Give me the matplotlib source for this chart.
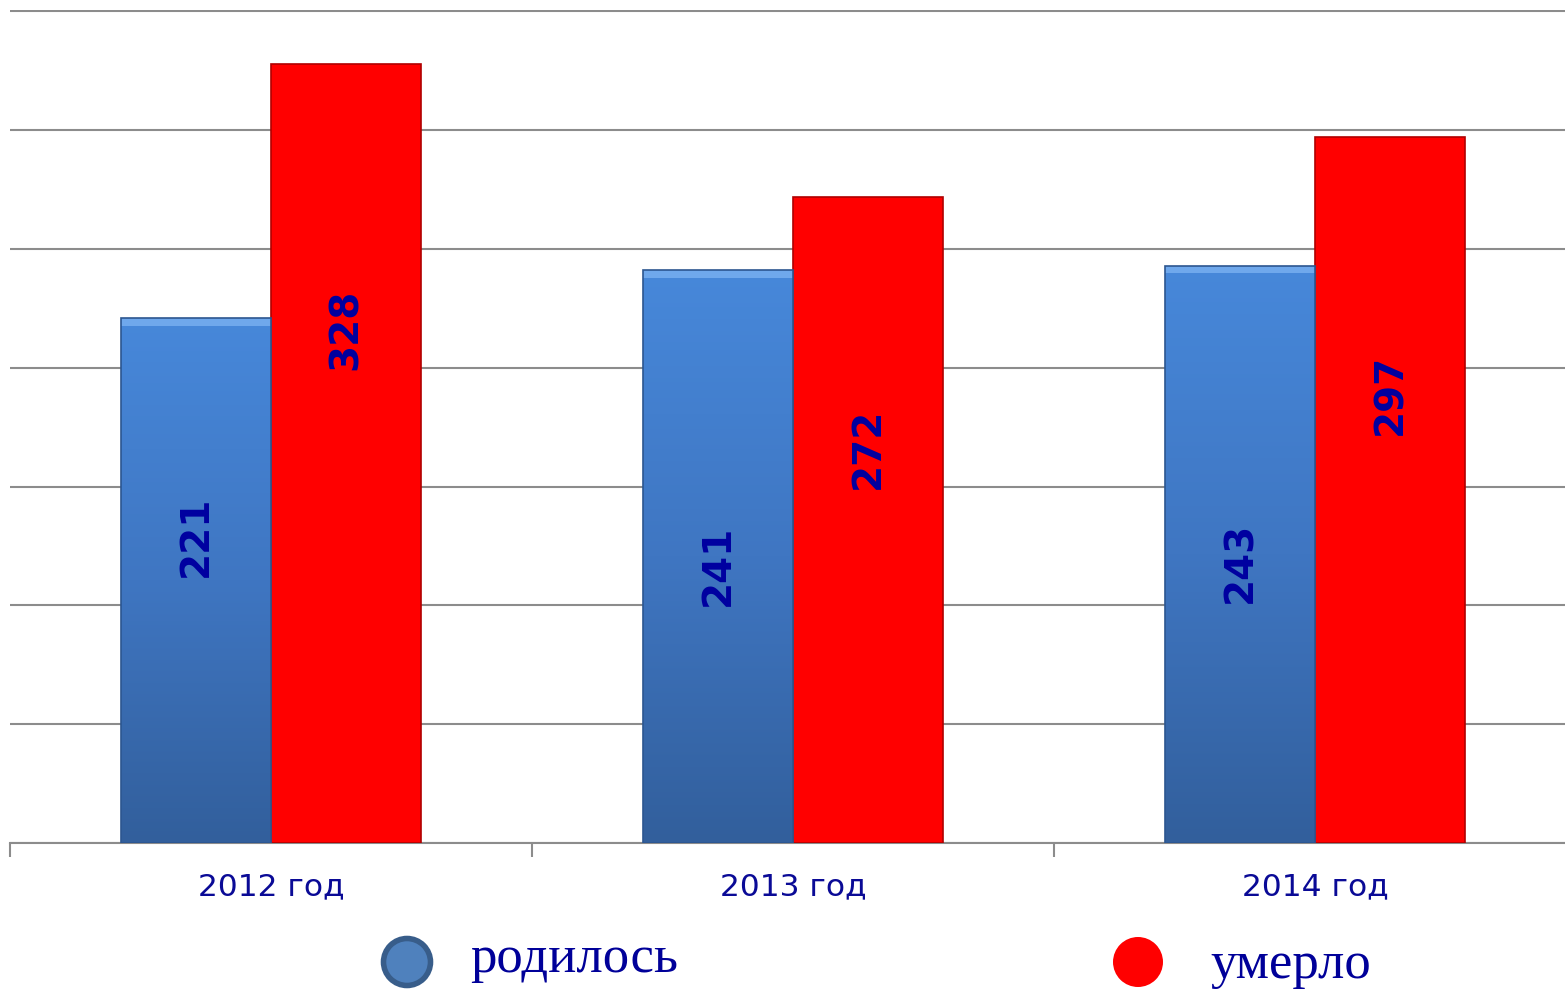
import numpy as np
import matplotlib.pyplot as plt
from matplotlib.colors import LinearSegmentedColormap
from matplotlib.patches import Circle

years = ['2012 год', '2013 год', '2014 год']
born = [221, 241, 243]
died = [328, 272, 297]
series_names = ['родилось', 'умерло']

# heights (data units) where the rotated value labels sit in the original
born_label_y = [129, 117, 118]
died_label_y = [216, 166, 189]

text_blue = '#0a0a96'
grid_gray = '#8c8c8c'

fig = plt.figure(figsize=(15.65, 9.93), dpi=100)
ax = fig.add_axes([10 / 1565, 150 / 993, 1566 / 1565, 833 / 993])

x = np.arange(len(years))
w = 0.287

# blue bars with a vertical gradient
blue_cmap = LinearSegmentedColormap.from_list('blue_grad', ['#325f9c', '#3f76c2', '#4788da'])
grad = np.linspace(0, 1, 256).reshape(-1, 1)
bars_b = ax.bar(x - w / 2, born, w, color='#3f78c4', linewidth=0, zorder=3)
for b in bars_b:
    im = ax.imshow(grad, cmap=blue_cmap, origin='lower', aspect='auto', zorder=3.2,
                   extent=(b.get_x(), b.get_x() + b.get_width(), 0, b.get_height()))
    im.set_clip_path(b)
# light bevel on top of the blue bars
ax.bar(x - w / 2, [3.2] * len(born), w, bottom=np.array(born) - 3.2,
       color='#6fa8ec', linewidth=0, zorder=3.4)
ax.bar(x - w / 2, born, w, fill=False, edgecolor='#2c5690', linewidth=1.2, zorder=3.6)

ax.bar(x + w / 2, died, w, color='#ff0000', edgecolor='#b00000', linewidth=1.2, zorder=3)

for i in range(len(years)):
    ax.text(x[i] - w / 2, born_label_y[i], str(born[i]), rotation=90, ha='center', va='center',
            fontsize=28, fontweight='bold', color='#0000a0', zorder=5)
    ax.text(x[i] + w / 2, died_label_y[i], str(died[i]), rotation=90, ha='center', va='center',
            fontsize=28, fontweight='bold', color='#0000a0', zorder=5)

ax.set_xlim(-0.5, len(years) - 0.5)
ax.set_ylim(0, 350.6)
ax.set_yticks(range(0, 351, 50))
ax.yaxis.grid(True, color=grid_gray, linewidth=1.5, zorder=0)
ax.set_axisbelow(True)
ax.tick_params(axis='y', length=0, labelleft=False)
for s in ['top', 'right', 'left']:
    ax.spines[s].set_visible(False)
ax.spines['bottom'].set_color(grid_gray)
ax.spines['bottom'].set_linewidth(1.5)

ax.set_xticks(x)
ax.set_xticklabels(years, fontsize=22.5, color=text_blue)
ax.tick_params(axis='x', length=0, pad=21)
ax.set_xticks(np.arange(-0.5, len(years), 1), minor=True)
ax.tick_params(axis='x', which='minor', length=10, width=1.5, color=grid_gray)

# legend drawn by hand
fig.add_artist(Circle((4.07, 0.31), 0.235, transform=fig.dpi_scale_trans,
                      facecolor='#4f81bd', edgecolor='#385d8a', linewidth=4))
fig.add_artist(Circle((11.38, 0.31), 0.25, transform=fig.dpi_scale_trans,
                      facecolor='#ff0000', edgecolor='none'))
fig.text(470 / 1565, (993 - 972) / 993, series_names[0], family='Liberation Serif',
         fontsize=38, color='#000099', va='baseline')
fig.text(1210 / 1565, (993 - 978) / 993, series_names[1], family='Liberation Serif',
         fontsize=38, color='#000099', va='baseline')

fig.savefig('out.png', dpi=100)
